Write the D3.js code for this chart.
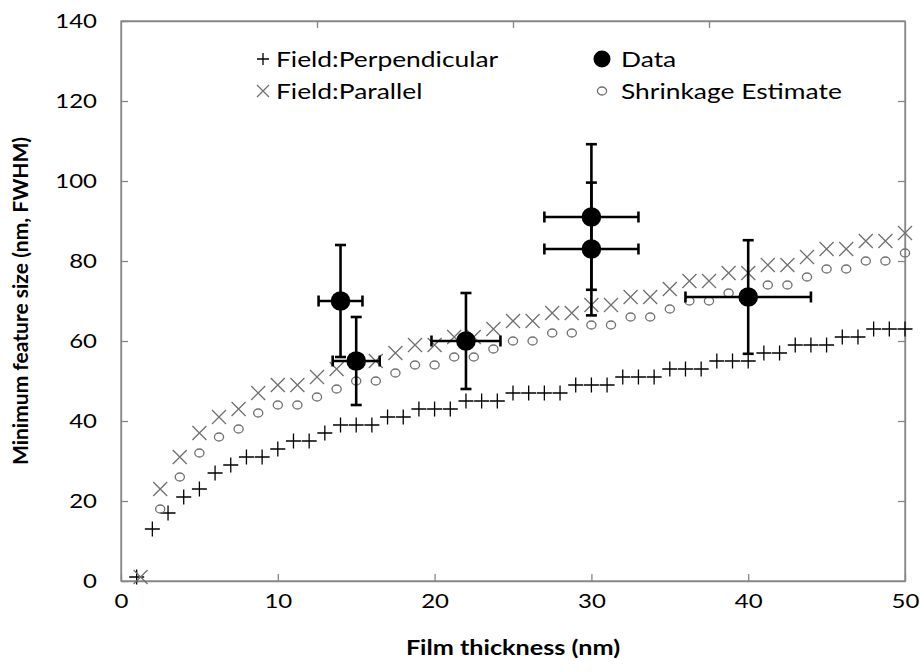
<!DOCTYPE html>
<html><head><meta charset="utf-8">
<script src="https://cdn.jsdelivr.net/npm/d3@7"></script>
<style>body{margin:0;background:#fff}svg{display:block}text{font-family:Lato,'Open Sans',sans-serif}</style>
</head><body><svg id="c" width="920" height="672"></svg>
<script>
const perpX=[1,2,3,4,5,6,7,8,9,10,11,12,13,14,15,16,17,18,19,20,21,22,23,24,25,26,27,28,29,30,31,32,33,34,35,36,37,38,39,40,41,42,43,44,45,46,47,48,49,50];
const perpY=[1,13,17,21,23,27,29,31,31,33,35,35,37,39,39,39,41,41,43,43,43,45,45,45,47,47,47,47,49,49,49,51,51,51,53,53,53,55,55,55,57,57,59,59,59,61,61,63,63,63];
const parX=[1.25,2.5,3.75,5,6.25,7.5,8.75,10,11.25,12.5,13.75,15,16.25,17.5,18.75,20,21.25,22.5,23.75,25,26.25,27.5,28.75,30,31.25,32.5,33.75,35,36.25,37.5,38.75,40,41.25,42.5,43.75,45,46.25,47.5,48.75,50];
const parY=[1,23,31,37,41,43,47,49,49,51,53,55,55,57,59,59,61,61,63,65,65,67,67,69,69,71,71,73,75,75,77,77,79,79,81,83,83,85,85,87];
const shrX=[2.5,3.75,5,6.25,7.5,8.75,10,11.25,12.5,13.75,15,16.25,17.5,18.75,20,21.25,22.5,23.75,25,26.25,27.5,28.75,30,31.25,32.5,33.75,35,36.25,37.5,38.75,40,41.25,42.5,43.75,45,46.25,47.5,48.75,50];
const shrY=[18,26,32,36,38,42,44,44,46,48,50,50,52,54,54,56,56,58,60,60,62,62,64,64,66,66,68,70,70,72,72,74,74,76,78,78,80,80,82];
const dataX=[14,15,22,30,30,40];
const dataY=[70,55,60,91,83,71];
const dataXErr=[1.4,1.5,2.2,3,3,4];
const dataYErr=[14,11,12,18.2,16.6,14.2];
const xTicks=[0,10,20,30,40,50];
const yTicks=[0,20,40,60,80,100,120,140];
const topTicks=[12.5,25,37.5];
const xTitle="Film thickness (nm)";
const yTitle="Minimum feature size (nm, FWHM)";
const legendItems=[
 {label:"Field:Perpendicular",sym:"plus"},
 {label:"Data",sym:"dot"},
 {label:"Field:Parallel",sym:"cross"},
 {label:"Shrinkage Estimate",sym:"ring"}];

const svg=d3.select("#c");
const L=121,R=905,T=21,B=581;
const SX=1.2; // horizontal stretch of the reference's text
const x=d3.scaleLinear().domain([0,50]).range([L,R]);
const y=d3.scaleLinear().domain([0,140]).range([B,T]);
const axisCol="#868686", grayMk="#707070";

svg.append("rect").attr("x",L).attr("y",T).attr("width",R-L).attr("height",B-T).attr("fill","none").attr("stroke",axisCol).attr("stroke-width",1.3);
const xa=svg.append("g").attr("transform",`translate(0,${B})`).call(d3.axisBottom(x).tickValues(xTicks).tickSizeInner(-7).tickSizeOuter(0).tickPadding(13));
const ya=svg.append("g").attr("transform",`translate(${L},0)`).call(d3.axisLeft(y).tickValues(yTicks).tickSizeInner(-7).tickSizeOuter(0).tickPadding(24));
const ta=svg.append("g").attr("transform",`translate(0,${T})`).call(d3.axisTop(x).tickValues(topTicks).tickSizeInner(-7).tickSizeOuter(0).tickFormat(""));
const ra=svg.append("g").attr("transform",`translate(${R},0)`).call(d3.axisRight(y).tickValues(yTicks.slice(1,-1)).tickSizeInner(-7).tickSizeOuter(0).tickFormat(""));
[xa,ya,ta,ra].forEach(a=>{a.select(".domain").attr("stroke",axisCol).attr("stroke-width",1.3);a.selectAll(".tick line").attr("stroke",axisCol).attr("stroke-width",1.3);a.selectAll("text").attr("font-size",20).attr("fill","#000").style("font-family","Lato");});
xa.selectAll(".tick text").attr("transform",`scale(${SX},1)`);
ya.selectAll(".tick text").attr("x",-24/SX).attr("transform",`scale(${SX},1)`);

function plusPath(s){return `M${-s},0H${s}M0,${-s}V${s}`;}
function crossPath(s){return `M${-s},${-s}L${s},${s}M${-s},${s}L${s},${-s}`;}

svg.append("g").selectAll("path").data(perpX.map((d,i)=>[d,perpY[i]])).join("path")
 .attr("transform",d=>`translate(${x(d[0])},${y(d[1])})`).attr("d",plusPath(7.5)).attr("stroke","#000").attr("stroke-width",1.3).attr("fill","none");
svg.append("g").selectAll("path").data(parX.map((d,i)=>[d,parY[i]])).join("path")
 .attr("transform",d=>`translate(${x(d[0])},${y(d[1])})`).attr("d",crossPath(7)).attr("stroke",grayMk).attr("stroke-width",1.3).attr("fill","none");
svg.append("g").selectAll("ellipse").data(shrX.map((d,i)=>[d,shrY[i]])).join("ellipse")
 .attr("cx",d=>x(d[0])).attr("cy",d=>y(d[1])).attr("rx",4.6).attr("ry",4).attr("stroke",grayMk).attr("stroke-width",1.3).attr("fill","none");
const dd=dataX.map((d,i)=>({x:d,y:dataY[i],ex:dataXErr[i],ey:dataYErr[i]}));
const eb=svg.append("g").attr("stroke","#000").attr("stroke-width",2.6).attr("fill","none");
dd.forEach(d=>{
 const cx=x(d.x),cy=y(d.y),c=5.5;
 eb.append("line").attr("x1",cx).attr("x2",cx).attr("y1",y(d.y-d.ey)).attr("y2",y(d.y+d.ey));
 eb.append("line").attr("x1",x(d.x-d.ex)).attr("x2",x(d.x+d.ex)).attr("y1",cy).attr("y2",cy);
 [d.y-d.ey,d.y+d.ey].forEach(v=>eb.append("line").attr("x1",cx-c).attr("x2",cx+c).attr("y1",y(v)).attr("y2",y(v)));
 [d.x-d.ex,d.x+d.ex].forEach(v=>eb.append("line").attr("x1",x(v)).attr("x2",x(v)).attr("y1",cy-c).attr("y2",cy+c));
});
svg.append("g").selectAll("circle").data(dd).join("circle").attr("cx",d=>x(d.x)).attr("cy",d=>y(d.y)).attr("r",9.8).attr("fill","#000");

const colX=[263,602], gapX=[13,19], rowY=[59,91];
legendItems.forEach((it,i)=>{
 const c=i%2, cx=colX[c], cy=rowY[Math.floor(i/2)];
 const lg=svg.append("g").attr("transform",`translate(${cx},${cy})`);
 if(it.sym==="plus") lg.append("path").attr("d",plusPath(6)).attr("stroke","#000").attr("stroke-width",1.3);
 if(it.sym==="cross") lg.append("path").attr("d",crossPath(6)).attr("stroke",grayMk).attr("stroke-width",1.3);
 if(it.sym==="dot") lg.append("circle").attr("r",8.5).attr("fill","#000");
 if(it.sym==="ring") lg.append("ellipse").attr("rx",4.6).attr("ry",4).attr("fill","none").attr("stroke",grayMk).attr("stroke-width",1.3);
 lg.append("text").attr("transform",`translate(${gapX[c]},0) scale(${SX},1)`).attr("dy","0.35em").attr("font-size",22).text(it.label);
});

svg.append("text").attr("transform",`translate(${(L+R)/2},655) scale(${SX},1)`).attr("text-anchor","middle").attr("font-size",21).attr("font-weight","bold").text(xTitle);
svg.append("text").attr("transform",`translate(28,${(T+B)/2}) rotate(-90)`).attr("text-anchor","middle").attr("font-size",21).attr("font-weight","bold").text(yTitle);
</script></body></html>
